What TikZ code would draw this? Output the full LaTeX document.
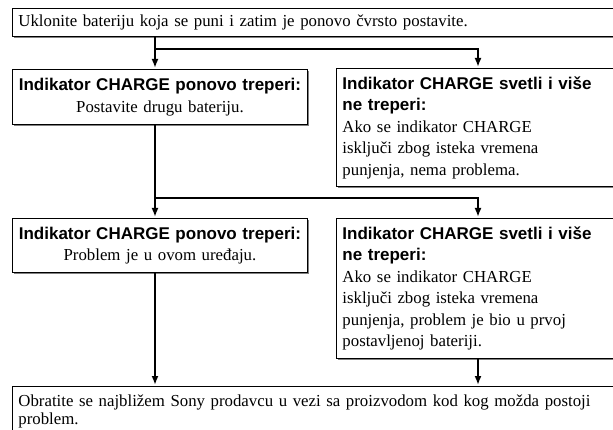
\documentclass[tikz,border=0pt]{standalone}
\usepackage{fontspec}
\setmainfont{Liberation Serif}
\setsansfont{Liberation Sans}
\usepackage{tikz}
\usetikzlibrary{arrows.meta,positioning,shadows,calc}

\newcommand{\headtxt}[1]{{\fontsize{17}{21.5}\selectfont\sffamily\bfseries #1}}

\tikzset{
  box/.style={draw, line width=0.9pt, fill=white, anchor=north west, inner xsep=6pt, inner ysep=0pt,
    drop shadow={shadow xshift=1.2pt, shadow yshift=-1.2pt, fill=black!50, opacity=1},
    font=\fontsize{16.8}{21.5}\selectfont},
  flow/.style={line width=2.6pt, -{Latex[length=9pt,width=7pt]}, shorten >=1pt},
  stem/.style={line width=2.6pt},
}

\begin{document}
\begin{tikzpicture}[x=1pt, y=-1pt]

\useasboundingbox (0,0) rectangle (613,430);

\node[box, text width=592pt, align=left, minimum height=28pt] (remove) at (12,8)
  {Uklonite bateriju koja se puni i zatim je ponovo čvrsto postavite.};

\node[box, text width=287pt, inner xsep=4pt, align=center, minimum height=55pt] (blinkA) at (12,69)
  {\headtxt{Indikator CHARGE ponovo treperi:}\\ Postavite drugu bateriju.};
\node[box, text width=268pt, align=left, minimum height=118pt] (litA) at (336,68)
  {\headtxt{Indikator CHARGE svetli i više}\\ \headtxt{ne treperi:}\\ Ako se indikator CHARGE\\ isključi zbog isteka vremena\\ punjenja, nema problema.};

\node[box, text width=287pt, inner xsep=4pt, align=center, minimum height=54pt] (blinkB) at (12,218)
  {\headtxt{Indikator CHARGE ponovo treperi:}\\ Problem je u ovom uređaju.};
\node[box, text width=268pt, align=left, minimum height=140pt] (litB) at (336,218)
  {\headtxt{Indikator CHARGE svetli i više}\\ \headtxt{ne treperi:}\\ Ako se indikator CHARGE\\ isključi zbog isteka vremena\\ punjenja, problem je bio u prvoj\\ postavljenoj bateriji.};

\node[box, text width=592pt, align=left, inner ysep=8pt, font=\fontsize{16.8}{18.5}\selectfont] (contact) at (12,386)
  {Obratite se najbližem Sony prodavcu u vezi sa proizvodom kod kog možda postoji\\ problem.};

\coordinate (fork1) at (155,49);
\coordinate (fork1r) at (478,49);
\coordinate (fork2) at (155,198);
\coordinate (fork2r) at (478,198);

\draw[stem] (remove.south -| fork1) -- (fork1);
\draw[flow] (fork1) -- (fork1 |- blinkA.north);
\draw[flow] (fork1) -- (fork1r) -- (fork1r |- litA.north);

\draw[stem] (blinkA.south -| fork2) -- (fork2);
\draw[flow] (fork2) -- (fork2 |- blinkB.north);
\draw[flow] (fork2) -- (fork2r) -- (fork2r |- litB.north);

\draw[flow] (blinkB.south -| fork2) -- (contact.north -| fork2);
\draw[flow] (litB.south -| fork2r) -- (contact.north -| fork2r);

\end{tikzpicture}
\end{document}
